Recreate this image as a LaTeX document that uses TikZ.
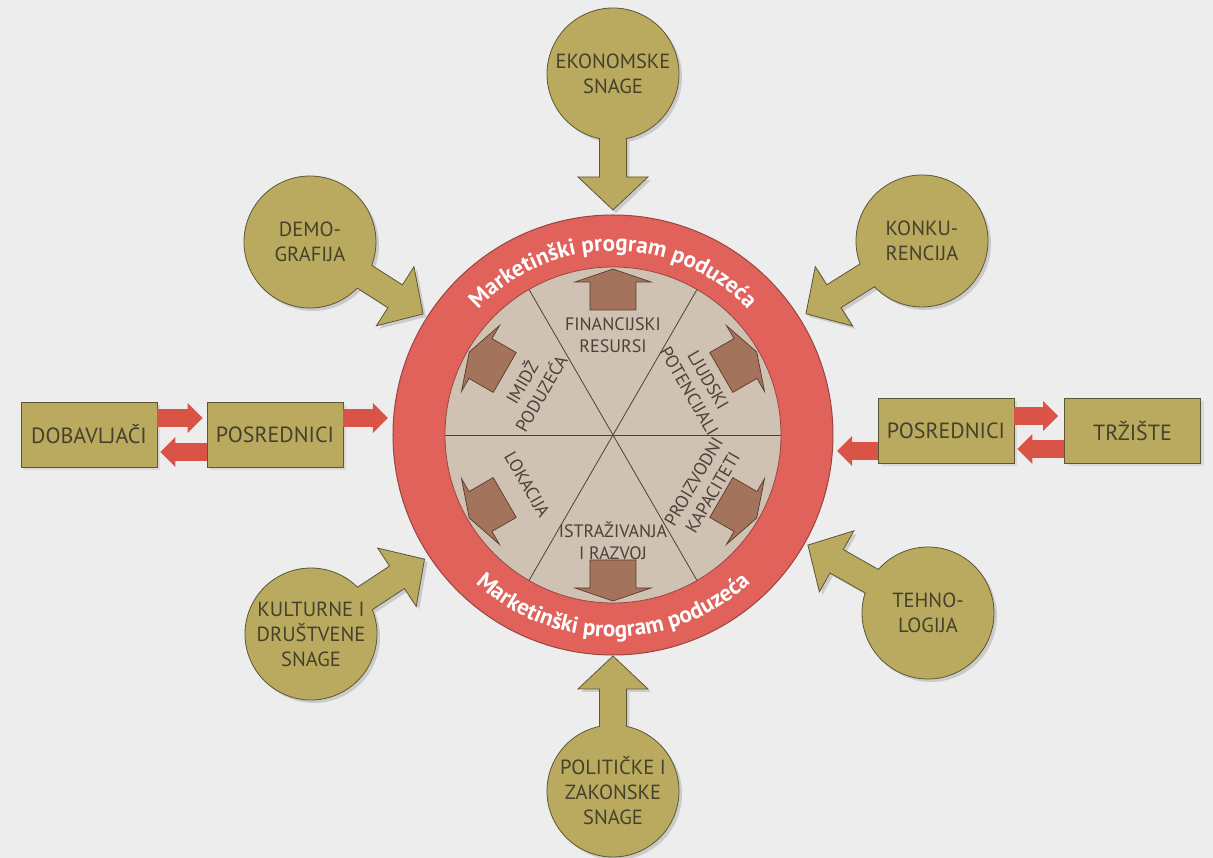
\documentclass[tikz,border=0pt]{standalone}
\usepackage{fontspec}
\setmainfont{PT Sans}
\usetikzlibrary{decorations.text,arrows.meta,shadows}
\definecolor{bgpaper}{HTML}{EDEDEE}
\definecolor{satfill}{HTML}{B9AA60}
\definecolor{satline}{HTML}{5C5634}
\definecolor{sattext}{HTML}{45412A}
\definecolor{ringred}{HTML}{E0625A}
\definecolor{ringline}{HTML}{9A4540}
\definecolor{sectorfill}{HTML}{CFC2B3}
\definecolor{sectorline}{HTML}{4E4038}
\definecolor{brownfill}{HTML}{A3735C}
\definecolor{brownline}{HTML}{5A3A2C}
\definecolor{arrowred}{HTML}{DA5347}
\newcommand\satpath[1]{(11.8:66) -- ({#1-33},13.5) -- ({#1-33},35) -- (#1,0) -- ({#1-33},-35) -- ({#1-33},-13.5) -- (-11.8:66) arc[start angle=-11.8, end angle=-348.2, radius=66] -- cycle}
\newcommand\satnode[6]{%
  \begin{scope}[shift={(#2+3,#3-3)},rotate=#4]
    \fill[black,opacity=0.14] \satpath{#5};
  \end{scope}
  \begin{scope}[shift={(#2,#3)},rotate=#4]
    \filldraw[satshape] \satpath{#5};
  \end{scope}
  \node[sattxt] (#1) at (#2,#3) {#6};
}
\tikzset{
  satshape/.style={fill=satfill, draw=satline, line width=0.8pt},
  sattxt/.style={align=center, text=sattext, font=\fontsize{20.5}{25}\selectfont, inner sep=0pt},
  boxn/.style={draw=satline, fill=satfill, line width=0.8pt, minimum width=136pt, minimum height=65pt,
    text=sattext, font=\fontsize{22}{26}\selectfont, drop shadow={opacity=0.18, shadow xshift=3pt, shadow yshift=-3pt}},
  sectortxt/.style={align=center, text=sectorline, font=\fontsize{18}{22}\selectfont, inner sep=0pt},
  redarr/.style={draw=arrowred, line width=18pt, -{Triangle[width=29pt,length=15pt]}},
  brownarr/.style={fill=brownfill, draw=brownline, line width=0.7pt},
  secline/.style={draw=sectorline, line width=0.8pt},
}
\newcommand\ringfont{\bfseries\fontsize{23}{23}\selectfont}
\begin{document}
\begin{tikzpicture}[x=1pt,y=1pt]
\useasboundingbox (-613,-423) rectangle (600,435);
\fill[bgpaper] (-613,-423) rectangle (600,435);

% central wheel
\node[circle, minimum size=440pt, inner sep=0pt, fill=ringred, draw=ringline, line width=1pt] (ring) at (0,0) {};
\node[circle, minimum size=336pt, inner sep=0pt, fill=sectorfill, draw=ringline, line width=0.8pt] (core) at (0,0) {};
\draw[secline] (0:168) -- (180:168);
\draw[secline] (60:168) -- (240:168);
\draw[secline] (120:168) -- (300:168);

\foreach \a in {90,30,-30,-90,210,150}{
  \filldraw[brownarr, rotate=\a] (125,23) -- (153,23) -- (153,38) -- (166,0) -- (153,-38) -- (153,-23) -- (125,-23) -- cycle;
}

\node[sectortxt] (fin) at (90:100) {FINANCIJSKI\\RESURSI};
\node[sectortxt, rotate=-60] (ljud) at (30:99) {LJUDSKI\\POTENCIJALI};
\node[sectortxt, rotate=60] (proiz) at (-30:104) {PROIZVODNI\\KAPACITETI};
\node[sectortxt] (istr) at (-90:106) {ISTRAŽIVANJA\\I RAZVOJ};
\node[sectortxt, rotate=-60] (lok) at (210:99) {LOKACIJA};
\node[sectortxt, rotate=60] (imid) at (150:95) {IMIDŽ\\PODUZEĆA};

\path[decorate, decoration={text along path, text align=center, text color=white,
  text={|\ringfont|Marketinški program poduzeća}}]
  (165:184) arc[start angle=165, end angle=15, radius=184];
\path[decorate, decoration={text along path, text align=center, text color=white,
  text={|\ringfont|Marketinški program poduzeća}}]
  (195:202) arc[start angle=195, end angle=345, radius=202];

% satellites
\satnode{eko}{0}{361}{-90}{136}{EKONOMSKE\\SNAGE}
\satnode{demo}{-303}{193}{-32.5}{134}{DEMO-\\GRAFIJA}
\satnode{konk}{309}{194}{-147.9}{137}{KONKU-\\RENCIJA}
\satnode{kult}{-302}{-199}{33.4}{136}{KULTURNE I\\DRUŠTVENE\\SNAGE}
\satnode{tehn}{315}{-178}{150.5}{138}{TEHNO-\\LOGIJA}
\satnode{poli}{0}{-356}{90}{135}{POLITIČKE I\\ZAKONSKE\\SNAGE}

% boxes
\node[boxn] (dob) at (-524,0.5) {DOBAVLJAČI};
\node[boxn] (posL) at (-338,0.5) {POSREDNICI};
\node[boxn] (posR) at (333,4) {POSREDNICI};
\node[boxn] (trz) at (519.5,4) {TRŽIŠTE};

\coordinate (ringW) at (-225,17);
\coordinate (ringE) at (224,-16);

\draw[redarr] ([yshift=16.5pt]dob.east) -- ([yshift=16.5pt,xshift=-4pt]posL.west);
\draw[redarr] ([yshift=-17.5pt]posL.west) -- ([yshift=-17.5pt,xshift=3pt]dob.east);
\draw[redarr] ([yshift=16.5pt]posL.east) -- (ringW);
\draw[redarr] ([yshift=15pt]posR.east) -- ([yshift=15pt,xshift=-6pt]trz.west);
\draw[redarr] ([yshift=-18pt]trz.west) -- ([yshift=-18pt,xshift=3pt]posR.east);
\draw[redarr] ([yshift=-20pt]posR.west) -- (ringE);
\end{tikzpicture}
\end{document}
